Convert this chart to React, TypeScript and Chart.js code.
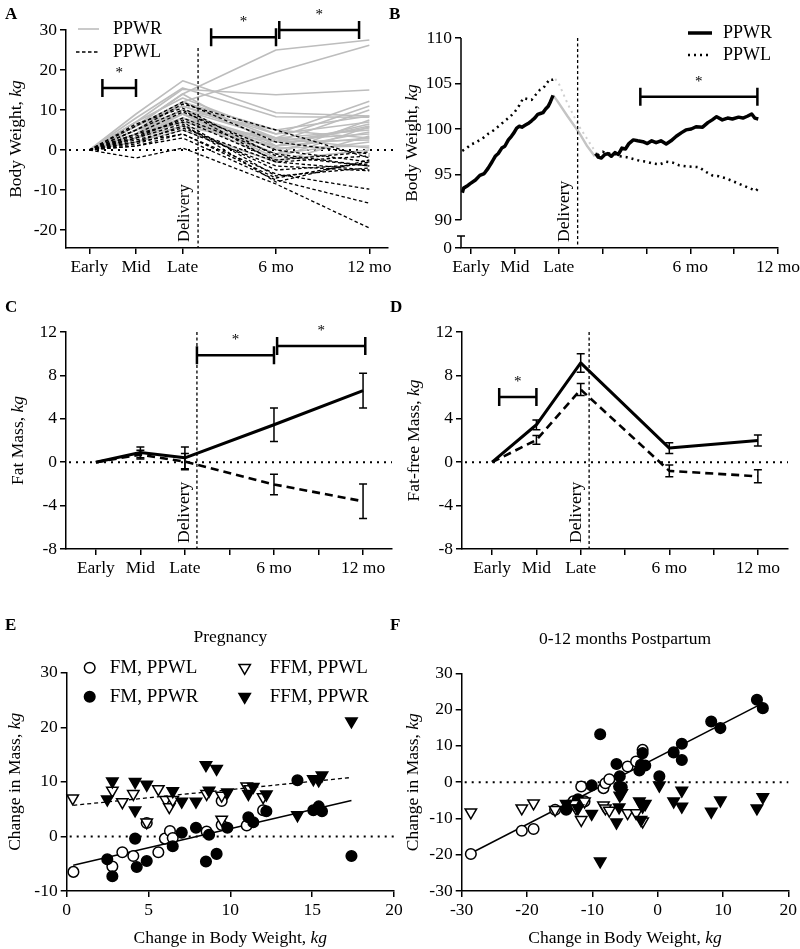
import React, { useEffect, useRef } from 'react';
import { Chart, registerables } from 'chart.js';

Chart.register(...registerables);

const FONT = "'Liberation Serif', 'Times New Roman', Times, serif";

// ---------------- Panel A: individual body weight trajectories ----------------
const timeA = [0, 1, 2, 4, 6];
const tickValsA = [0, 1, 2, 4, 6];
const tickLabelsA = ['Early', 'Mid', 'Late', '6 mo', '12 mo'];
const yTicksA = [-20, -10, 0, 10, 20, 30];
const ppwrLinesA = [
  [0, 6, 14, 25, 27.5],
  [0, 5, 12, 19.5, 26.2],
  [0, 7, 15.2, 13.8, 15],
  [0, 9, 17.3, 9.3, 8.5],
  [0, 8, 15.5, 8.3, 8.2],
  [0, 6, 11, 4, 12.2],
  [0, 5, 10, 3, 11],
  [0, 4, 9, 2, 10],
  [0, 6, 12, 5, 8.5],
  [0, 7, 13, 4, 7],
  [0, 5, 9, 1, 6],
  [0, 3, 8, 2, 5.5],
  [0, 4, 7, 3, 5],
  [0, 5, 10, 0, 4.5],
  [0, 6, 11, 2.5, 4],
  [0, 3, 6, 1, 3],
  [0, 4, 8, -1, 2],
  [0, 3, 7, 0.5, 1],
  [0, 5, 9, -2, 5.8],
  [0, 2, 5, -3, 3.5],
  [0, 4, 12, 3, 0.5],
  [0, 6, 14, 1, 6.5],
  [0, 3, 9, -1, 7.5],
  [0, 2, 6, 2, 2.5],
  [0, 4, 10, 5, 3],
  [0, 3, 8, -2.5, 0],
];
const ppwlLinesA = [
  [0, -2, 0.5, -8.5, -19.5],
  [0, 1, 3, -7.5, -13.3],
  [0, 2, 4, -6, -9.8],
  [0, 5, 11.5, 5, -2],
  [0, 6, 12, 2, -1],
  [0, 4, 9.5, 0, -3],
  [0, 3, 8, -1, -4],
  [0, 5, 10, -3, -5],
  [0, 2, 6, -5, -3.5],
  [0, 3, 6.5, -8, -2.5],
  [0, 4, 7, -6.5, -4.5],
  [0, 1.5, 5, -4, -5.2],
  [0, 2.5, 5.5, -3, -1.5],
  [0, 6.5, 10.5, -1.5, -4],
  [0, 3.5, 7.5, -2.5, -0.5],
  [0, 1, 4, -7, -3],
];
const deliveryA = 2.33;
const deliveryTopA = 25.5;
const bracketsA = [
  { x0: 0.28, x1: 1, y: 15.5 },
  { x0: 2.61, x1: 4, y: 28.2 },
  { x0: 4.07, x1: 5.78, y: 30 },
];

// ---------------- Panel B: average weight curves ----------------
const tickValsB = [0, 1, 2, 3, 4, 5, 6, 7];
const tickLabelsB = ['Early', 'Mid', 'Late', '', '', '6 mo', '', '12 mo'];
const yBreakMinB = 86.92;
const yTicksB = [yBreakMinB, 90, 95, 100, 105, 110];
const yTickLabelsB = ['0', '90', '95', '100', '105', '110'];
const ppwrPregX = [-0.2, -0.17, -0.1, -0.02, 0.1, 0.2, 0.3, 0.39, 0.48, 0.55, 0.62, 0.7, 0.77, 0.85, 0.92, 0.98, 1.04, 1.1, 1.16, 1.23, 1.3, 1.38, 1.45, 1.52, 1.58, 1.64, 1.7, 1.76, 1.81, 1.87];
const ppwrPregY = [93.0, 93.5, 93.7, 94.0, 94.4, 94.9, 95.1, 95.7, 96.4, 97.0, 97.3, 97.9, 98.1, 98.8, 99.2, 99.6, 100.1, 100.3, 100.2, 100.4, 100.6, 100.9, 101.2, 101.6, 101.7, 101.8, 102.2, 102.5, 103.0, 103.7];
const ppwrDelivX = [1.87, 1.95, 2.2, 2.45, 2.65, 2.82];
const ppwrDelivY = [103.7, 103.2, 101.4, 99.7, 98.1, 97.0];
const ppwrPostX = [2.84, 2.9, 2.97, 3.05, 3.12, 3.2, 3.28, 3.36, 3.44, 3.52, 3.6, 3.7, 3.8, 3.92, 4.02, 4.12, 4.22, 4.33, 4.45, 4.56, 4.68, 4.8, 4.9, 5.02, 5.13, 5.28, 5.4, 5.5, 5.6, 5.73, 5.85, 5.96, 6.1, 6.2, 6.3, 6.4, 6.47, 6.55];
const ppwrPostY = [97.3, 96.9, 96.8, 97.2, 97.3, 97.0, 97.4, 97.2, 97.9, 97.8, 98.4, 98.8, 98.7, 98.6, 98.4, 98.7, 98.5, 98.7, 98.35, 98.7, 99.2, 99.6, 99.9, 100.0, 100.25, 100.2, 100.7, 101.0, 101.35, 101.0, 101.2, 101.1, 101.3, 101.2, 101.4, 101.65, 101.2, 101.1];
const ppwlPregX = [-0.2, -0.1, 0.0, 0.1, 0.2, 0.3, 0.4, 0.5, 0.6, 0.7, 0.8, 0.9, 1.0, 1.1, 1.19, 1.28, 1.38, 1.48, 1.57, 1.65, 1.72, 1.8, 1.86, 1.92];
const ppwlPregY = [97.6, 97.9, 98.3, 98.5, 98.8, 99.1, 99.5, 99.8, 100.2, 100.6, 101.0, 101.4, 101.9, 102.6, 103.4, 103.3, 103.2, 103.8, 104.3, 104.5, 105.0, 105.5, 105.4, 105.5];
const ppwlDelivX = [1.92, 2.0, 2.2, 2.45, 2.7, 2.89];
const ppwlDelivY = [105.5, 105.0, 102.8, 100.4, 98.5, 97.1];
const ppwlPostX = [2.89, 3.0, 3.12, 3.25, 3.4, 3.55, 3.7, 3.85, 4.0, 4.15, 4.3, 4.45, 4.6, 4.75, 4.9, 5.05, 5.2, 5.35, 5.5, 5.65, 5.8, 5.95, 6.1, 6.25, 6.4, 6.5, 6.55];
const ppwlPostY = [97.1, 97.5, 97.3, 97.3, 97.0, 96.9, 96.7, 96.5, 96.4, 96.2, 96.1, 96.4, 96.3, 96.0, 95.9, 95.85, 95.8, 95.3, 94.9, 94.8, 94.6, 94.3, 94.0, 93.7, 93.4, 93.2, 93.5];
const deliveryB = 2.43;
const bracketsB = [{ x0: 3.86, x1: 6.53, y: 103.55 }];

// ---------------- Panels C & D: fat mass / fat-free mass ----------------
const timeCD = [0, 1, 2, 4, 6];
const tickValsCD = [0, 1, 2, 3, 4, 5, 6];
const tickLabelsCD = ['Early', 'Mid', 'Late', '', '6 mo', '', '12 mo'];
const yTicksCD = [-8, -4, 0, 4, 8, 12];
const fmPPWR = [0, 0.9, 0.4, 3.45, 6.6];
const fmPPWRErr = [0, 0.5, 1.0, 1.55, 1.6];
const fmPPWL = [0, 0.7, 0.05, -2.05, -3.6];
const fmPPWLErr = [0, 0.4, 0.75, 0.95, 1.6];
const ffmPPWR = [0, 3.45, 9.15, 1.3, 2.0];
const ffmPPWRErr = [0, 0.45, 0.85, 0.5, 0.5];
const ffmPPWL = [0, 2.05, 6.7, -0.8, -1.3];
const ffmPPWLErr = [0, 0.4, 0.55, 0.55, 0.6];
const deliveryC = 2.27;
const deliveryD = 2.19;
const bracketsC = [
  { x0: 2.27, x1: 4, y: 9.85 },
  { x0: 4.07, x1: 6.05, y: 10.7 },
];
const bracketsD = [{ x0: 0.16, x1: 1, y: 6.0 }];

// ---------------- Panels E & F: change in mass vs change in body weight ----------------
const eFmPPWL: [number, number][] = [[0.41, -6.5], [2.79, -5.5], [3.4, -2.9], [4.07, -3.6], [4.89, 2.45], [5.6, -2.9], [6.0, -0.4], [6.31, 1.0], [6.48, -0.3], [8.55, 0.9], [9.47, 6.5], [9.47, 2.1], [11.0, 2.0], [12.0, 4.8]];
const eFmPPWR: [number, number][] = [[2.48, -4.2], [2.79, -7.3], [4.18, -0.4], [4.28, -5.6], [4.89, -4.5], [6.48, -1.8], [7.03, 0.7], [7.9, 1.6], [8.51, -4.6], [8.7, 0.3], [9.16, -3.2], [9.82, 1.6], [11.1, 3.5], [11.4, 2.6], [12.2, 4.6], [14.1, 10.3], [15.07, 4.8], [15.4, 5.5], [15.6, 4.6], [17.4, -3.6]];
const eFfmPPWL: [number, number][] = [[0.37, 7.0], [2.79, 8.4], [3.4, 6.3], [4.07, 7.8], [4.89, 2.6], [5.6, 8.7], [6.05, 6.7], [6.27, 5.4], [6.48, 6.7], [8.55, 7.8], [9.47, 7.5], [9.47, 3.1], [11.0, 9.2], [11.2, 8.7], [12.0, 7.2]];
const eFfmPPWR: [number, number][] = [[2.48, 6.8], [2.79, 10.1], [4.18, 10.0], [4.18, 4.8], [4.89, 9.5], [6.48, 8.3], [7.03, 6.4], [7.9, 6.4], [8.51, 13.1], [8.7, 8.4], [9.16, 12.4], [9.82, 8.1], [11.1, 7.8], [11.4, 9.1], [12.2, 7.7], [14.1, 3.9], [15.07, 10.5], [15.4, 10.3], [15.6, 11.2], [17.4, 21.1]];
const eFitFM: [number, number][] = [[0.4, -5.3], [17.4, 6.6]];
const eFitFFM: [number, number][] = [[0.4, 5.7], [17.4, 10.8]];
const eXTicks = [0, 5, 10, 15, 20];
const eYTicks = [-10, 0, 10, 20, 30];

const fFmPPWL: [number, number][] = [[-28.6, -19.8], [-20.8, -13.4], [-19.0, -12.9], [-15.7, -7.6], [-12.9, -5.3], [-11.7, -1.2], [-11.2, -5.3], [-8.3, -1.65], [-8.0, -0.3], [-7.4, 0.8], [-4.6, 4.3], [-3.3, 5.7], [-2.3, 8.9]];
const fFmPPWR: [number, number][] = [[-14.0, -7.6], [-12.2, -4.7], [-10.1, -0.9], [-8.8, 13.2], [-6.3, 5.0], [-5.8, 1.6], [-5.9, -1.2], [-5.5, -1.4], [-2.8, 3.2], [-2.55, 4.8], [-2.3, 8.0], [-1.9, 4.6], [0.26, 1.6], [2.45, 8.2], [3.7, 10.6], [3.7, 6.1], [8.2, 16.7], [9.6, 14.9], [15.2, 22.7], [16.1, 20.4]];
const fFfmPPWL: [number, number][] = [[-28.6, -8.3], [-20.8, -7.2], [-19.0, -5.8], [-15.7, -7.6], [-12.9, -6.0], [-12.5, -7.2], [-11.7, -10.4], [-11.2, -5.3], [-8.3, -6.4], [-8.0, -7.2], [-7.4, -7.8], [-4.6, -8.5], [-3.3, -8.5], [-2.3, -10.8]];
const fFfmPPWR: [number, number][] = [[-14.0, -6.0], [-12.2, -7.2], [-10.1, -8.7], [-8.8, -21.8], [-6.3, -11.1], [-5.8, -3.7], [-5.9, -6.9], [-5.5, -3.0], [-2.8, -5.3], [-2.55, -10.4], [-2.3, -6.7], [-1.9, -6.0], [0.26, -0.9], [2.45, -5.3], [3.7, -2.3], [3.7, -6.7], [8.2, -8.1], [9.6, -5.0], [15.2, -7.2], [16.1, -4.1]];
const fFit: [number, number][] = [[-28.6, -19.6], [16.1, 21.8]];
const fXTicks = [-30, -20, -10, 0, 10, 20];
const fYTicks = [-30, -20, -10, 0, 10, 20, 30];

// ---------------- helpers ----------------
type Box = { left: number; top: number; w: number; h: number; x0: number; y0: number; x1: number; y1: number; xH: number };

const TICK_FONT = 17.5;

function axis(min: number, max: number, vals: number[], labels: string[], extra: any = {}) {
  return {
    type: 'linear',
    min,
    max,
    afterBuildTicks: (s: any) => {
      s.ticks = vals.map((v) => ({ value: v }));
    },
    ticks: {
      autoSkip: false,
      maxRotation: 0,
      minRotation: 0,
      padding: 3,
      color: '#000',
      font: { family: FONT, size: TICK_FONT },
      callback: (_v: any, i: number) => labels[i],
    },
    grid: { drawOnChartArea: false, drawTicks: true, tickLength: 6, color: '#000', lineWidth: 1.5 },
    border: { display: true, color: '#000', width: 1.5 },
    ...extra,
  };
}

function baseOptions(box: Box, xScale: any, yScale: any) {
  return {
    responsive: false,
    animation: false,
    events: [],
    layout: {
      padding: {
        left: 0,
        top: box.y0 - box.top,
        right: box.left + box.w - box.x1,
        bottom: box.top + box.h - box.y1 - box.xH,
      },
    },
    plugins: { legend: { display: false }, tooltip: { enabled: false }, title: { display: false } },
    scales: {
      x: {
        ...xScale,
        afterFit: (s: any) => {
          s.height = box.xH;
          s.paddingLeft = 0;
          s.paddingRight = 0;
        },
      },
      y: {
        ...yScale,
        afterFit: (s: any) => {
          s.width = box.x0 - box.left;
          s.paddingTop = 0;
          s.paddingBottom = 0;
        },
      },
    },
  };
}

function lineDS(xs: number[], ys: number[], color: string, width: number, dash: number[]) {
  return {
    data: xs.map((x, i) => ({ x, y: ys[i] })),
    showLine: true,
    borderColor: color,
    borderWidth: width,
    borderDash: dash,
    pointRadius: 0,
    fill: false,
    tension: 0,
    borderCapStyle: 'butt',
    borderJoinStyle: 'round',
  };
}

function pairLineDS(pts: [number, number][], width: number, dash: number[]) {
  return lineDS(pts.map((p) => p[0]), pts.map((p) => p[1]), '#000', width, dash);
}

function markerDS(pts: [number, number][], kind: 'circle' | 'triangle', filled: boolean) {
  return {
    data: pts.map(([x, y]) => ({ x, y })),
    showLine: false,
    pointStyle: kind,
    pointRadius: kind === 'circle' ? 5.3 : 6.6,
    pointRotation: kind === 'triangle' ? 180 : 0,
    pointBackgroundColor: filled ? '#000' : '#fff',
    pointBorderColor: '#000',
    pointBorderWidth: 1.5,
    clip: false,
  };
}

const X = (chart: any, v: number) => chart.scales.x.getPixelForValue(v);
const Y = (chart: any, v: number) => chart.scales.y.getPixelForValue(v);

function zeroLine(ctx: CanvasRenderingContext2D, chart: any, extend = 0) {
  const a = chart.chartArea;
  const y = Y(chart, 0);
  ctx.strokeStyle = '#000';
  ctx.lineWidth = 2;
  ctx.setLineDash([2, 5]);
  ctx.beginPath();
  ctx.moveTo(a.left + 3, y);
  ctx.lineTo(a.right + extend, y);
  ctx.stroke();
  ctx.setLineDash([]);
}

function deliveryLine(ctx: CanvasRenderingContext2D, chart: any, xv: number, topV: number, size: number) {
  const a = chart.chartArea;
  const x = X(chart, xv);
  ctx.strokeStyle = '#000';
  ctx.lineWidth = 1.3;
  ctx.setLineDash([3, 2.5]);
  ctx.beginPath();
  ctx.moveTo(x, Y(chart, topV));
  ctx.lineTo(x, a.bottom);
  ctx.stroke();
  ctx.setLineDash([]);
  ctx.save();
  ctx.translate(x - 13, a.bottom - 6);
  ctx.rotate(-Math.PI / 2);
  ctx.font = `${size}px ${FONT}`;
  ctx.fillStyle = '#000';
  ctx.textAlign = 'left';
  ctx.textBaseline = 'middle';
  ctx.fillText('Delivery', 0, 0);
  ctx.restore();
}

function bracket(ctx: CanvasRenderingContext2D, chart: any, b: { x0: number; x1: number; y: number }) {
  const x0 = X(chart, b.x0);
  const x1 = X(chart, b.x1);
  const y = Y(chart, b.y);
  ctx.strokeStyle = '#000';
  ctx.lineWidth = 2.5;
  ctx.beginPath();
  ctx.moveTo(x0, y);
  ctx.lineTo(x1, y);
  ctx.moveTo(x0, y - 9);
  ctx.lineTo(x0, y + 9);
  ctx.moveTo(x1, y - 9);
  ctx.lineTo(x1, y + 9);
  ctx.stroke();
  ctx.fillStyle = '#000';
  ctx.font = `15px ${FONT}`;
  ctx.textAlign = 'center';
  ctx.textBaseline = 'middle';
  ctx.fillText('*', (x0 + x1) / 2, y - 15);
}

function errorBars(ctx: CanvasRenderingContext2D, chart: any, xs: number[], ys: number[], errs: number[]) {
  ctx.strokeStyle = '#000';
  ctx.lineWidth = 1.5;
  xs.forEach((xv, i) => {
    if (!errs[i]) return;
    const x = X(chart, xv);
    const yt = Y(chart, ys[i] + errs[i]);
    const yb = Y(chart, ys[i] - errs[i]);
    ctx.beginPath();
    ctx.moveTo(x, yt);
    ctx.lineTo(x, yb);
    ctx.moveTo(x - 4, yt);
    ctx.lineTo(x + 4, yt);
    ctx.moveTo(x - 4, yb);
    ctx.lineTo(x + 4, yb);
    ctx.stroke();
  });
}

function rich(ctx: CanvasRenderingContext2D, parts: [string, boolean][], x: number, y: number, size: number, rotate: boolean) {
  ctx.save();
  ctx.translate(x, y);
  if (rotate) ctx.rotate(-Math.PI / 2);
  ctx.fillStyle = '#000';
  ctx.textBaseline = 'middle';
  ctx.textAlign = 'left';
  const fonts = parts.map(([, it]) => `${it ? 'italic ' : ''}${size}px ${FONT}`);
  let total = 0;
  const ws = parts.map(([t], i) => {
    ctx.font = fonts[i];
    const w = ctx.measureText(t).width;
    total += w;
    return w;
  });
  let cx = -total / 2;
  parts.forEach(([t], i) => {
    ctx.font = fonts[i];
    ctx.fillText(t, cx, 0);
    cx += ws[i];
  });
  ctx.restore();
}

function yTitle(ctx: CanvasRenderingContext2D, chart: any, text: string, localX: number) {
  const a = chart.chartArea;
  rich(ctx, [[text + ', ', false], ['kg', true]], localX, (a.top + a.bottom) / 2, 17.5, true);
}

function drawMarker(ctx: CanvasRenderingContext2D, x: number, y: number, kind: 'circle' | 'triangle', filled: boolean) {
  ctx.beginPath();
  if (kind === 'circle') {
    ctx.arc(x, y, 5.3, 0, Math.PI * 2);
  } else {
    const r = 6.6;
    ctx.moveTo(x, y + r);
    ctx.lineTo(x - 0.866 * r, y - 0.5 * r);
    ctx.lineTo(x + 0.866 * r, y - 0.5 * r);
    ctx.closePath();
  }
  ctx.fillStyle = filled ? '#000' : '#fff';
  ctx.fill();
  ctx.strokeStyle = '#000';
  ctx.lineWidth = 1.5;
  ctx.stroke();
}

function text(ctx: CanvasRenderingContext2D, s: string, x: number, y: number, size: number, align: CanvasTextAlign = 'left') {
  ctx.fillStyle = '#000';
  ctx.font = `${size}px ${FONT}`;
  ctx.textAlign = align;
  ctx.textBaseline = 'middle';
  ctx.fillText(s, x, y);
}

function decor(before: (ctx: CanvasRenderingContext2D, chart: any) => void, after: (ctx: CanvasRenderingContext2D, chart: any) => void) {
  return {
    id: 'decor',
    beforeDatasetsDraw(chart: any) {
      const ctx = chart.ctx;
      ctx.save();
      before(ctx, chart);
      ctx.restore();
    },
    afterDraw(chart: any) {
      const ctx = chart.ctx;
      ctx.save();
      after(ctx, chart);
      ctx.restore();
    },
  };
}

// ---------------- panel configs ----------------
const boxA: Box = { left: 0, top: 0, w: 400, h: 285, x0: 66, y0: 30, x1: 388, y1: 248, xH: 30 };
const boxB: Box = { left: 400, top: 0, w: 400, h: 285, x0: 461, y0: 38, x1: 778, y1: 248, xH: 30 };
const boxC: Box = { left: 0, top: 285, w: 400, h: 320, x0: 66, y0: 332, x1: 392, y1: 549, xH: 30 };
const boxD: Box = { left: 400, top: 285, w: 400, h: 320, x0: 462, y0: 332, x1: 788, y1: 549, xH: 30 };
const boxE: Box = { left: 0, top: 605, w: 410, h: 344, x0: 66.7, y0: 672.7, x1: 394, y1: 891, xH: 30 };
const boxF: Box = { left: 400, top: 605, w: 400, h: 344, x0: 461.7, y0: 673.3, x1: 788.3, y1: 891, xH: 30 };

function configA() {
  const datasets: any[] = [
    ...ppwlLinesA.map((ys) => lineDS(timeA, ys, '#000', 1.3, [3.5, 2.5])),
    ...ppwrLinesA.map((ys) => lineDS(timeA, ys, '#bdbdbd', 1.6, [])),
  ];
  return {
    type: 'scatter',
    data: { datasets },
    options: baseOptions(boxA, axis(-0.5, 6.4, tickValsA, tickLabelsA), axis(-24.5, 30, yTicksA, yTicksA.map(String))),
    plugins: [
      decor(
        (ctx, chart) => {
          zeroLine(ctx, chart, 9);
        },
        (ctx, chart) => {
          deliveryLine(ctx, chart, deliveryA, deliveryTopA, 16.5);
          bracketsA.forEach((b) => bracket(ctx, chart, b));
          const a = chart.chartArea;
          ctx.strokeStyle = '#bdbdbd';
          ctx.lineWidth = 1.6;
          ctx.beginPath();
          ctx.moveTo(a.left + 12, a.top - 1);
          ctx.lineTo(a.left + 33, a.top - 1);
          ctx.stroke();
          ctx.strokeStyle = '#000';
          ctx.lineWidth = 1.3;
          ctx.setLineDash([3.5, 2.5]);
          ctx.beginPath();
          ctx.moveTo(a.left + 10, a.top + 22);
          ctx.lineTo(a.left + 33, a.top + 22);
          ctx.stroke();
          ctx.setLineDash([]);
          text(ctx, 'PPWR', a.left + 47, a.top - 1, 18);
          text(ctx, 'PPWL', a.left + 47, a.top + 22, 18);
          yTitle(ctx, chart, 'Body Weight', 16);
        }
      ),
    ],
  };
}

function configB() {
  const datasets: any[] = [
    lineDS(ppwrPregX, ppwrPregY, '#000', 3.5, []),
    lineDS(ppwrPostX, ppwrPostY, '#000', 3.5, []),
    lineDS(ppwlPregX, ppwlPregY, '#000', 2.5, [2, 4]),
    lineDS(ppwlPostX, ppwlPostY, '#000', 2.5, [2, 4]),
    lineDS(ppwrDelivX, ppwrDelivY, '#c4c4c4', 2.4, []),
    lineDS(ppwlDelivX, ppwlDelivY, '#d0d0d0', 2, [2, 4]),
  ];
  return {
    type: 'scatter',
    data: { datasets },
    options: baseOptions(
      boxB,
      axis(-0.23, 7, tickValsB, tickLabelsB),
      axis(yBreakMinB, 110, yTicksB, yTickLabelsB, { border: { display: false } })
    ),
    plugins: [
      decor(
        () => {},
        (ctx, chart) => {
          const a = chart.chartArea;
          // broken y axis
          ctx.strokeStyle = '#000';
          ctx.lineWidth = 1.5;
          ctx.beginPath();
          ctx.moveTo(a.left, Y(chart, 110));
          ctx.lineTo(a.left, Y(chart, 90));
          const yb = Y(chart, 90) + 16;
          ctx.moveTo(a.left, yb);
          ctx.lineTo(a.left, a.bottom);
          ctx.moveTo(a.left - 4, yb);
          ctx.lineTo(a.left + 4, yb);
          ctx.stroke();
          deliveryLine(ctx, chart, deliveryB, 110, 17.5);
          bracketsB.forEach((b) => bracket(ctx, chart, b));
          ctx.strokeStyle = '#000';
          ctx.lineWidth = 3.5;
          ctx.beginPath();
          ctx.moveTo(a.right - 90, a.top - 5);
          ctx.lineTo(a.right - 66, a.top - 5);
          ctx.stroke();
          ctx.lineWidth = 2.5;
          ctx.setLineDash([2, 4]);
          ctx.beginPath();
          ctx.moveTo(a.right - 90, a.top + 17);
          ctx.lineTo(a.right - 66, a.top + 17);
          ctx.stroke();
          ctx.setLineDash([]);
          text(ctx, 'PPWR', a.right - 55, a.top - 5, 18);
          text(ctx, 'PPWL', a.right - 55, a.top + 17, 18);
          yTitle(ctx, chart, 'Body Weight', 12);
        }
      ),
    ],
  };
}

function configCD(box: Box, solid: number[], solidErr: number[], dashed: number[], dashedErr: number[], delivery: number, brackets: any[], title: string, min: number, max: number, titleX: number) {
  const datasets: any[] = [
    lineDS(timeCD, solid, '#000', 3, []),
    lineDS(timeCD, dashed, '#000', 2.6, [8, 5]),
  ];
  return {
    type: 'scatter',
    data: { datasets },
    options: baseOptions(box, axis(min, max, tickValsCD, tickLabelsCD), axis(-8, 12, yTicksCD, yTicksCD.map(String))),
    plugins: [
      decor(
        (ctx, chart) => {
          zeroLine(ctx, chart);
        },
        (ctx, chart) => {
          errorBars(ctx, chart, timeCD, solid, solidErr);
          errorBars(ctx, chart, timeCD, dashed, dashedErr);
          deliveryLine(ctx, chart, delivery, 12, 17.5);
          brackets.forEach((b) => bracket(ctx, chart, b));
          yTitle(ctx, chart, title, titleX);
        }
      ),
    ],
  };
}

function configE() {
  const datasets: any[] = [
    markerDS(eFfmPPWR, 'triangle', true),
    markerDS(eFfmPPWL, 'triangle', false),
    markerDS(eFmPPWR, 'circle', true),
    markerDS(eFmPPWL, 'circle', false),
    pairLineDS(eFitFM, 1.5, []),
    pairLineDS(eFitFFM, 1.3, [4, 3]),
  ];
  return {
    type: 'scatter',
    data: { datasets },
    options: baseOptions(boxE, axis(0, 20, eXTicks, eXTicks.map(String)), axis(-10, 30, eYTicks, eYTicks.map(String))),
    plugins: [
      decor(
        (ctx, chart) => {
          zeroLine(ctx, chart);
        },
        (ctx, chart) => {
          const a = chart.chartArea;
          text(ctx, 'Pregnancy', (a.left + a.right) / 2, a.top - 35, 17.5, 'center');
          drawMarker(ctx, a.left + 23, a.top - 5, 'circle', false);
          drawMarker(ctx, a.left + 23, a.top + 24, 'circle', true);
          drawMarker(ctx, a.left + 178, a.top - 5, 'triangle', false);
          drawMarker(ctx, a.left + 178, a.top + 24, 'triangle', true);
          text(ctx, 'FM, PPWL', a.left + 43, a.top - 5, 19);
          text(ctx, 'FM, PPWR', a.left + 43, a.top + 24, 19);
          text(ctx, 'FFM, PPWL', a.left + 203, a.top - 5, 19);
          text(ctx, 'FFM, PPWR', a.left + 203, a.top + 24, 19);
          yTitle(ctx, chart, 'Change in Mass', 15);
          rich(ctx, [['Change in Body Weight, ', false], ['kg', true]], (a.left + a.right) / 2, a.bottom + 47, 17.5, false);
        }
      ),
    ],
  };
}

function configF() {
  const datasets: any[] = [
    markerDS(fFfmPPWR, 'triangle', true),
    markerDS(fFfmPPWL, 'triangle', false),
    markerDS(fFmPPWR, 'circle', true),
    markerDS(fFmPPWL, 'circle', false),
    pairLineDS(fFit, 1.5, []),
  ];
  return {
    type: 'scatter',
    data: { datasets },
    options: baseOptions(boxF, axis(-30, 20, fXTicks, fXTicks.map(String)), axis(-30, 30, fYTicks, fYTicks.map(String))),
    plugins: [
      decor(
        (ctx, chart) => {
          zeroLine(ctx, chart);
        },
        (ctx, chart) => {
          const a = chart.chartArea;
          text(ctx, '0-12 months Postpartum', (a.left + a.right) / 2, a.top - 34, 17.5, 'center');
          yTitle(ctx, chart, 'Change in Mass', 13);
          rich(ctx, [['Change in Body Weight, ', false], ['kg', true]], (a.left + a.right) / 2, a.bottom + 47, 17.5, false);
        }
      ),
    ],
  };
}

function Panel({ box, make }: { box: Box; make: () => any }) {
  const ref = useRef<HTMLCanvasElement>(null);
  useEffect(() => {
    const chart = new Chart(ref.current as HTMLCanvasElement, make());
    return () => chart.destroy();
  }, []);
  return (
    <canvas
      ref={ref}
      width={box.w}
      height={box.h}
      style={{ position: 'absolute', left: box.left, top: box.top, width: box.w, height: box.h }}
    />
  );
}

const letters: [string, number, number][] = [
  ['A', 5, 5],
  ['B', 389, 5],
  ['C', 5, 298],
  ['D', 390, 298],
  ['E', 5, 616],
  ['F', 390, 616],
];

export default function App() {
  return (
    <div style={{ position: 'absolute', left: 0, top: 0, width: 800, height: 949, background: '#fff', overflow: 'hidden' }}>
      <Panel box={boxA} make={configA} />
      <Panel box={boxB} make={configB} />
      <Panel box={boxC} make={() => configCD(boxC, fmPPWR, fmPPWRErr, fmPPWL, fmPPWLErr, deliveryC, bracketsC, 'Fat Mass', -0.67, 6.65, 18)} />
      <Panel box={boxD} make={() => configCD(boxD, ffmPPWR, ffmPPWRErr, ffmPPWL, ffmPPWLErr, deliveryD, bracketsD, 'Fat-free Mass', -0.68, 6.68, 14)} />
      <Panel box={boxE} make={configE} />
      <Panel box={boxF} make={configF} />
      {letters.map(([l, x, y]) => (
        <div
          key={l}
          style={{ position: 'absolute', left: x, top: y, fontFamily: FONT, fontWeight: 'bold', fontSize: 17, lineHeight: 1 }}
        >
          {l}
        </div>
      ))}
    </div>
  );
}
